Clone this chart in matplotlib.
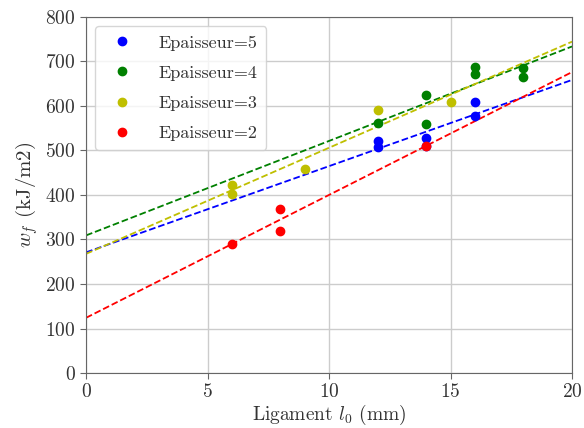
import numpy as np
import matplotlib
matplotlib.use("Agg")
import matplotlib.pyplot as plt

plt.rcParams['font.family'] = 'serif'
plt.rcParams['font.serif'] = ['cmr10', 'DejaVu Serif']
plt.rcParams['mathtext.fontset'] = 'cm'
plt.rcParams['axes.formatter.use_mathtext'] = True

labels = ["Epaisseur=5", "Epaisseur=4", "Epaisseur=3", "Epaisseur=2"]
colors = ["#0000ff", "#008000", "#bfbf00", "#ff0000"]

x_e5 = [12, 12, 14, 14, 16, 16]
y_e5 = [522, 508, 528, 511, 608, 577]
x_e4 = [12, 14, 14, 16, 16, 18, 18]
y_e4 = [562, 625, 559, 688, 673, 685, 665]
x_e3 = [6, 6, 9, 12, 15]
y_e3 = [423, 402, 458, 592, 608]
x_e2 = [6, 8, 8, 14]
y_e2 = [291, 368, 320, 511]

xs = [x_e5, x_e4, x_e3, x_e2]
ys = [y_e5, y_e4, y_e3, y_e2]

fig = plt.figure(figsize=(5.84, 4.28), dpi=100)
ax = fig.add_axes([0.1473, 0.1285, 0.8322, 0.8318])

xl = np.array([0, 20])
for x, y, c, lab in zip(xs, ys, colors, labels):
    ax.plot(x, y, 'o', color=c, markersize=6, label=lab, zorder=3)
for x, y, c in zip(xs, ys, colors):
    p = np.polyfit(x, y, 1)
    ax.plot(xl, np.polyval(p, xl), '--', color=c, lw=1.3, zorder=2)

ax.set_xlim(0, 20)
ax.set_ylim(0, 800)
ax.set_xticks([0, 5, 10, 15, 20])
ax.set_yticks(range(0, 801, 100))
ax.grid(True, color='#cccccc', lw=1)
ax.set_axisbelow(True)
for s in ax.spines.values():
    s.set_color('#666666')
ax.tick_params(colors='#333333', labelsize=14, length=4, color='#666666')
ax.set_xlabel(r"Ligament $l_0$ (mm)", fontsize=14, color='#333333', labelpad=1)
ax.set_ylabel(r"$w_f$ (kJ/m2)", fontsize=15, color='#333333')
leg = ax.legend(loc='upper left', fontsize=13, borderpad=0.5, handletextpad=1.0,
                labelspacing=0.8)
for t in leg.get_texts():
    t.set_color('#333333')

fig.savefig("out.png", dpi=100)
